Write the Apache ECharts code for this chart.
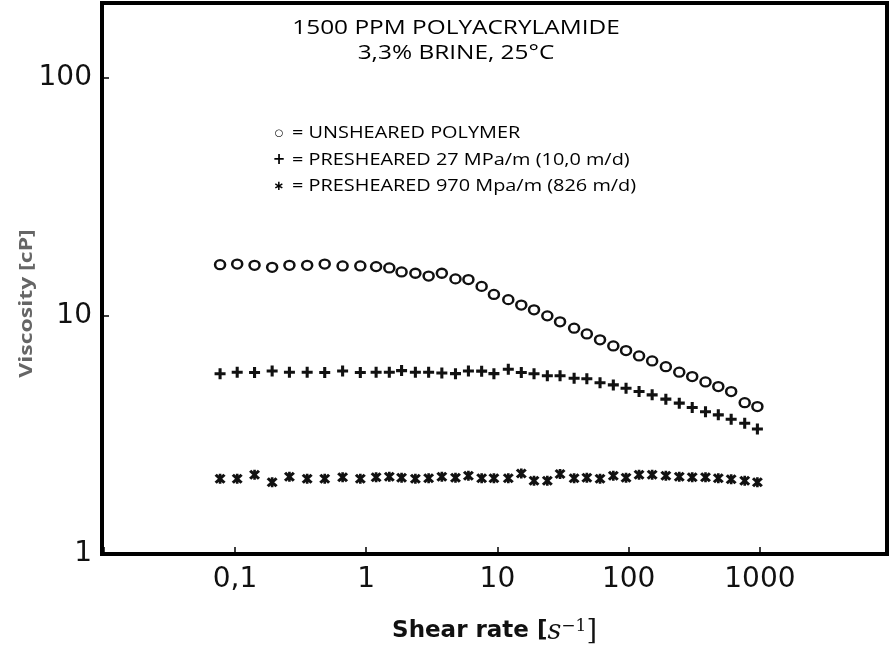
<!DOCTYPE html>
<html><head><meta charset="utf-8">
<script src="https://cdn.jsdelivr.net/npm/echarts@6/dist/echarts.min.js"></script>
<style>html,body{margin:0;padding:0;background:#fff}#c{width:891px;height:646px}</style>
</head><body><div id="c"></div>
<script>
// ---- data ----
const shearRate = [0.077,0.104,0.141,0.192,0.26,0.355,0.483,0.661,0.902,1.19,
  1.5,1.86,2.37,2.99,3.77,4.79,6.01,7.58,9.4,12.1,
  15.2,19,24,30,38.4,48,60.5,76.4,95.5,120,
  151,192,243,305,385,482,604,766,957];
const unsheared = [16.4,16.5,16.3,16.0,16.3,16.3,16.5,16.2,16.2,16.1,
  15.9,15.3,15.1,14.7,15.1,14.3,14.2,13.3,12.3,11.7,
  11.1,10.6,10.0,9.44,8.88,8.40,7.93,7.48,7.15,6.79,
  6.47,6.12,5.80,5.56,5.28,5.05,4.81,4.32,4.16];
const preshear27 = [5.71,5.80,5.78,5.87,5.80,5.80,5.78,5.87,5.78,5.80,
  5.80,5.89,5.80,5.80,5.76,5.72,5.87,5.86,5.72,5.97,
  5.78,5.71,5.60,5.60,5.47,5.44,5.24,5.13,4.97,4.81,
  4.66,4.47,4.30,4.12,3.96,3.84,3.68,3.54,3.35];
const preshear970 = [2.07,2.07,2.15,2.00,2.11,2.07,2.07,2.10,2.07,2.10,
  2.11,2.09,2.07,2.08,2.11,2.09,2.13,2.08,2.08,2.08,
  2.18,2.03,2.03,2.17,2.08,2.09,2.07,2.13,2.09,2.15,
  2.15,2.13,2.11,2.10,2.10,2.08,2.06,2.03,2.00];
const seriesNames = ['UNSHEARED POLYMER','PRESHEARED 27 MPa/m (10,0 m/d)','PRESHEARED 970 Mpa/m (826 m/d)'];
const legendGlyphs = ['\u25CB','+','\u2217'];
const titleLines = ['1500 PPM POLYACRYLAMIDE','3,3% BRINE, 25\u00B0C'];
const yAxisTitle = 'Viscosity [cP]';
const xTickValues = [0.1,1,10,100,1000];
const xTickLabels = ['0,1','1','10','100','1000'];
const yTickValues = [1,10,100];
const yTickLabels = ['1','10','100'];

function labelFor(v, vals, labs){
  for (let i=0;i<vals.length;i++){ if (Math.abs(Math.log10(v)-Math.log10(vals[i]))<1e-6) return labs[i]; }
  return '';
}
const zip = ys => shearRate.map((x,i)=>[x, ys[i]]);

const INK = '#111';
const plusPath = 'path://M3.6,0H6.4V3.6H10V6.4H6.4V10H3.6V6.4H0V3.6H3.6Z';
const starPath = 'path://M0,2L2,0L10,8L8,10Z M8,0L10,2L2,10L0,8Z M3.8,0H6.2V10H3.8Z';
const glyphFonts = ['10px "DejaVu Sans"','bold 15px "DejaVu Sans"','bold 13px "DejaVu Sans"'];

const chart = echarts.init(document.getElementById('c'), null, {renderer:'canvas'});
const graphics = [];
titleLines.forEach((t,i)=>{
  graphics.push({type:'text', x:456, y:28+i*25.5, scaleX:1.22, z:10,
    style:{text:t, font:'20px "Open Sans"', fill:'#000', textAlign:'center', textVerticalAlign:'middle'}});
});
seriesNames.forEach((n,i)=>{
  graphics.push({type:'text', x:279, y:133+i*26.8, z:10,
    style:{text:legendGlyphs[i], font:glyphFonts[i], fill:'#000', textAlign:'center', textVerticalAlign:'middle'}});
  graphics.push({type:'text', x:292, y:133+i*26.8, scaleX:1.17, z:10,
    style:{text:'= '+n, font:'17px "Open Sans"', fill:'#000', textAlign:'left', textVerticalAlign:'middle'}});
});
graphics.push({type:'text', x:26.5, y:303.5, rotation:Math.PI/2, scaleY:0.78, z:10,
  style:{text:yAxisTitle, font:'bold 23px "Open Sans"', fill:'#666', textAlign:'center', textVerticalAlign:'middle'}});

chart.setOption({
  animation:false,
  backgroundColor:'#fff',
  grid:{left:102, right:4, top:3, bottom:92, show:true, borderColor:'#000', borderWidth:4,
    containLabel:false, outerBoundsMode:'none'},
  xAxis:{type:'log', logBase:10, min:0.0097, max:9300,
    axisLine:{show:true, lineStyle:{color:'#000', width:4}},
    axisTick:{show:true, inside:true, length:7, lineStyle:{color:'#000', width:1.5}},
    splitLine:{show:false}, minorTick:{show:false},
    axisLabel:{formatter:v=>labelFor(v,xTickValues,xTickLabels), fontFamily:'DejaVu Sans', fontSize:28, color:INK, margin:12},
    name:'{b|Shear rate [}{i|s}{sup|\u22121}{r|]}', nameLocation:'middle', nameGap:64,
    nameTextStyle:{rich:{
      b:{fontFamily:'DejaVu Sans', fontWeight:'bold', fontSize:23, color:INK},
      i:{fontFamily:'DejaVu Serif', fontStyle:'italic', fontSize:27, color:INK},
      sup:{fontFamily:'DejaVu Serif', fontSize:17, color:INK, verticalAlign:'top'},
      r:{fontFamily:'DejaVu Serif', fontSize:27, color:INK}
    }}
  },
  yAxis:{type:'log', logBase:10, min:1, max:206,
    axisLine:{show:true, lineStyle:{color:'#000', width:4}},
    axisTick:{show:true, inside:true, length:7, lineStyle:{color:'#000', width:1.5}},
    splitLine:{show:false}, minorTick:{show:false},
    axisLabel:{formatter:v=>labelFor(v,yTickValues,yTickLabels), fontFamily:'DejaVu Sans', fontSize:28, color:INK, margin:10}
  },
  graphic:graphics,
  series:[
    {name:seriesNames[0], type:'scatter', data:zip(unsheared), symbol:'circle', symbolSize:[10,9],
      itemStyle:{color:'#fff', borderColor:INK, borderWidth:2.4, opacity:1}},
    {name:seriesNames[1], type:'scatter', data:zip(preshear27), symbol:plusPath, symbolSize:11,
      itemStyle:{color:INK, opacity:1}},
    {name:seriesNames[2], type:'scatter', data:zip(preshear970), symbol:starPath, symbolSize:[11,10],
      itemStyle:{color:INK, opacity:1}}
  ]
});
</script></body></html>
